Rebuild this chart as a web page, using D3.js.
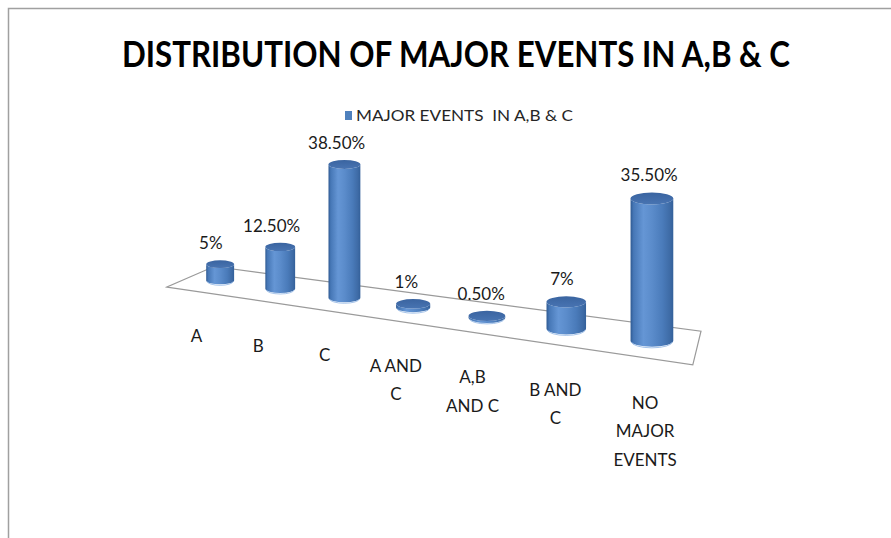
<!DOCTYPE html>
<html>
<head>
<meta charset="utf-8">
<script src="https://cdn.jsdelivr.net/npm/d3@7/dist/d3.min.js"></script>
<style>
  html, body { margin: 0; padding: 0; background: #fff; }
  svg { display: block; }
  text { font-family: Lato, "Open Sans", "DejaVu Sans", sans-serif; }
</style>
</head>
<body>
<svg id="chart" width="891" height="538"></svg>
<script>
// ---- data ----
const title = "DISTRIBUTION OF MAJOR EVENTS IN A,B & C";
const seriesName = "MAJOR EVENTS  IN A,B & C";
const categories = ["A", "B", "C", "A AND C", "A,B AND C", "B AND C", "NO MAJOR EVENTS"];
const categoryLines = [["A"], ["B"], ["C"], ["A AND", "C"], ["A,B", "AND C"], ["B AND", "C"], ["NO", "MAJOR", "EVENTS"]];
const values = [5, 12.5, 38.5, 1, 0.5, 7, 35.5];
const valueLabels = ["5%", "12.50%", "38.50%", "1%", "0.50%", "7%", "35.50%"];

// ---- layout ----
const W = 891, H = 538;
const svg = d3.select("#chart");

// category axis in "floor units" (one unit per category), depth 0 (front) .. 1 (back)
const xBand = d3.scaleBand().domain(categories).range([-0.5, 6.5]).padding(0);
const center = c => xBand(c) + xBand.bandwidth() / 2;
// value -> vertical world height (px before perspective)
const hScale = d3.scaleLinear().domain([0, 1]).range([0, 3.38]);

// perspective mapping of the floor plane (homography) + vertical height
const P0 = [196.4, 291.4], Dv = [53.3, -0.843], Ev = [66, 1.8];
const cPer = -0.0333, ePer = 0.085;
function proj(u, d, h) {
  const w = 1 + cPer * u + ePer * d;
  return [(P0[0] + u * Dv[0] + d * Ev[0]) / w,
          (P0[1] + u * Dv[1] + d * Ev[1]) / w - h / w];
}

const defs = svg.append("defs");
const grad = defs.append("linearGradient").attr("id", "cyl").attr("x1", 0).attr("x2", 1).attr("y1", 0).attr("y2", 0);
[[0, "#2f5a92"], [0.07, "#4677b6"], [0.3, "#6596d5"], [0.5, "#5b8ccb"], [0.75, "#4a7bba"], [0.92, "#3e6ba6"], [1, "#33609a"]]
  .forEach(s => grad.append("stop").attr("offset", s[0]).attr("stop-color", s[1]));
const tgrad = defs.append("linearGradient").attr("id", "cyltop").attr("x1", 0).attr("x2", 0).attr("y1", 0).attr("y2", 1);
[[0, "#3a64a0"], [1, "#4874b2"]].forEach(s => tgrad.append("stop").attr("offset", s[0]).attr("stop-color", s[1]));

// outer frame
svg.append("rect").attr("x", 8.5).attr("y", 8.5).attr("width", W).attr("height", H)
  .attr("fill", "none").attr("stroke", "#a0a0a0").attr("stroke-width", 1.5);

// title
svg.append("text").attr("x", 456).attr("y", 67).attr("text-anchor", "middle")
  .attr("font-size", 36).attr("font-weight", 700).attr("fill", "#000")
  .attr("textLength", 668).attr("lengthAdjust", "spacingAndGlyphs").text(title);

// legend
svg.append("rect").attr("x", 345).attr("y", 111).attr("width", 7).attr("height", 9).attr("fill", "#4f81bd");
svg.append("text").attr("x", 356).attr("y", 121).attr("font-size", 15).attr("fill", "#262626")
  .attr("textLength", 217).attr("lengthAdjust", "spacingAndGlyphs")
  .style("white-space", "pre").attr("xml:space", "preserve").text(seriesName);

// floor
const corners = [proj(-0.5, 0, 0), proj(6.5, 0, 0), proj(6.5, 1, 0), proj(-0.5, 1, 0)];
svg.append("path").attr("d", d3.line()(corners) + "Z")
  .attr("fill", "none").attr("stroke", "#9a9a9a").attr("stroke-width", 1.2);

// bars (cylinders)
const R = 0.24, depth = 0.5;
const bars = svg.append("g");
categories.forEach((cat, i) => {
  const u = center(cat);
  const xl = proj(u - R, depth, 0)[0], xr = proj(u + R, depth, 0)[0];
  const cx = (xl + xr) / 2, rx = (xr - xl) / 2, ry = rx * 0.28;
  const yb = proj(u, depth, 0)[1];
  const yt = proj(u, depth, hScale(values[i]))[1];
  const g = bars.append("g");
  g.append("path")
    .attr("d", `M${xl},${yt} L${xl},${yb} A${rx},${ry} 0 0 0 ${xr},${yb} L${xr},${yt} A${rx},${ry} 0 0 1 ${xl},${yt} Z`)
    .attr("fill", "url(#cyl)");
  g.append("path")
    .attr("d", `M${xl + 1},${yb + 1} A${rx - 1},${ry} 0 0 0 ${xr - 1},${yb + 1}`)
    .attr("fill", "none").attr("stroke", "#8fb4e3").attr("stroke-width", 1).attr("opacity", 0.8);
  g.append("ellipse").attr("cx", cx).attr("cy", yt).attr("rx", rx).attr("ry", ry)
    .attr("fill", "url(#cyltop)");
  // value label
  const lx = proj(u, 0.3, 0)[0];
  svg.append("text").attr("x", lx).attr("y", yt - ry - 11).attr("text-anchor", "middle")
    .attr("font-size", 17).attr("fill", "#1a1a1a").text(valueLabels[i]);
});

// category labels
categories.forEach((cat, i) => {
  const p = proj(center(cat), 0, 0);
  const t = svg.append("text").attr("text-anchor", "middle").attr("font-size", 17).attr("fill", "#1a1a1a");
  categoryLines[i].forEach((ln, k) => {
    t.append("tspan").attr("x", p[0]).attr("y", p[1] + 51 + k * 28.5).text(ln);
  });
});
</script>
</body>
</html>
